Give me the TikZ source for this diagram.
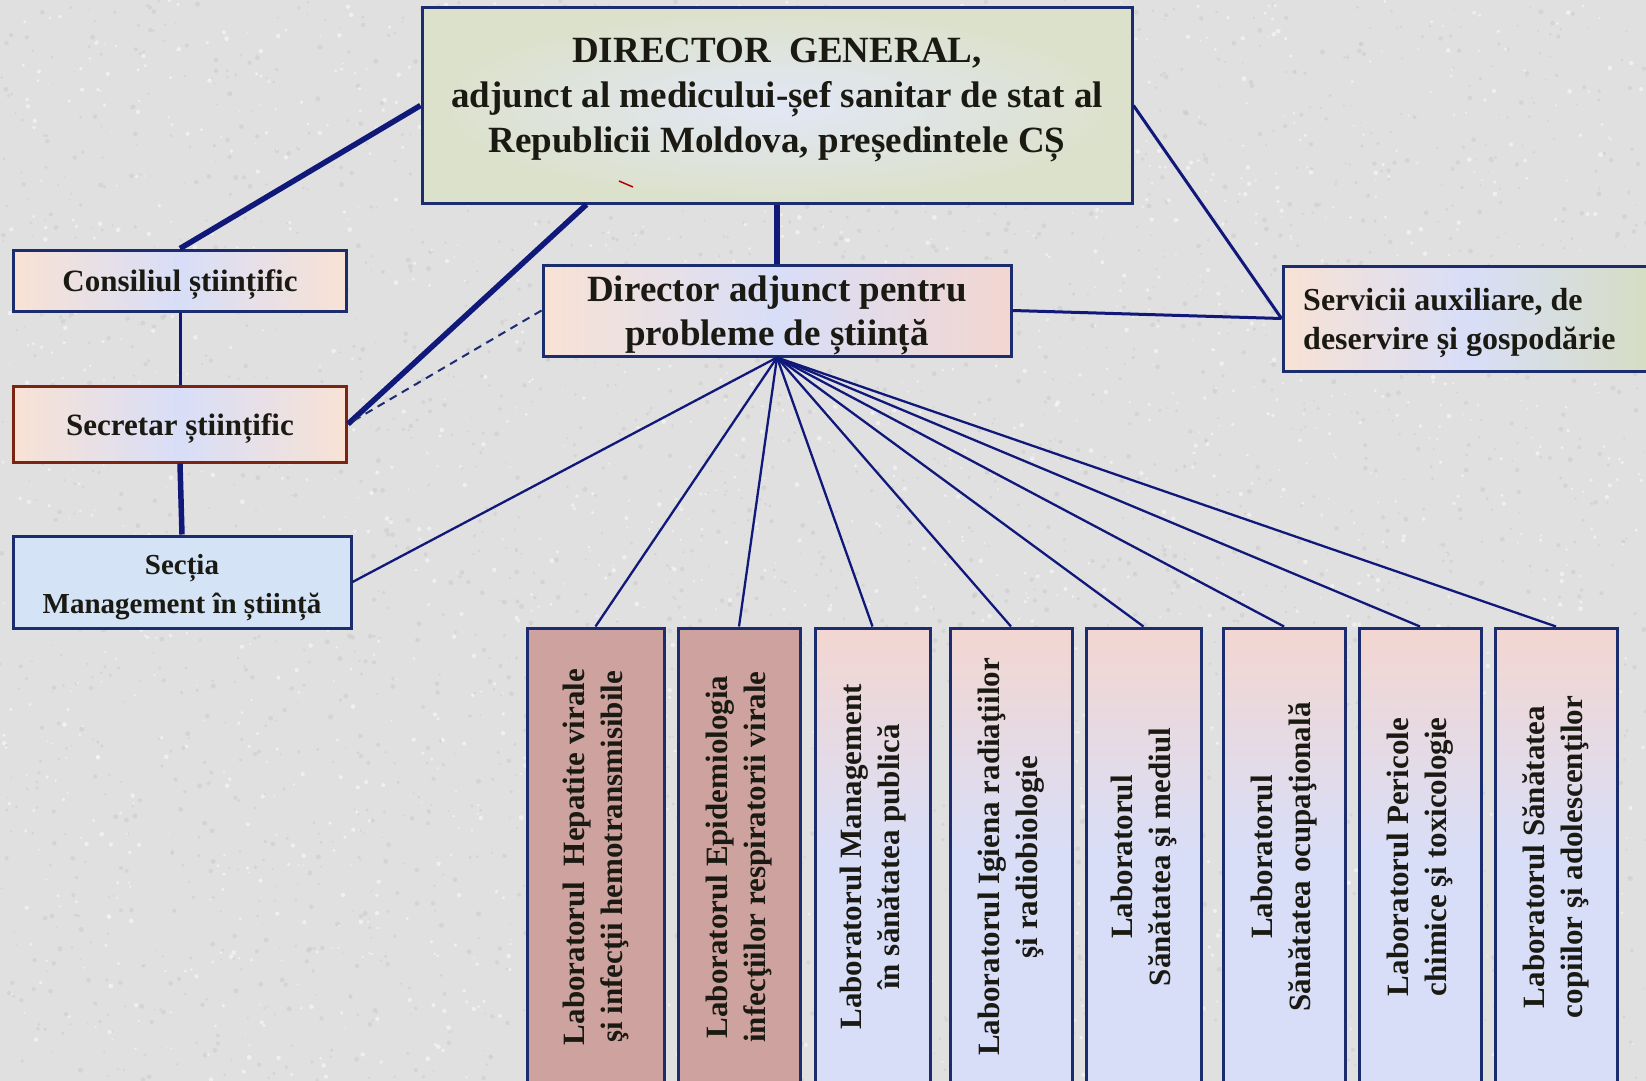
\documentclass[tikz,border=0pt]{standalone}
\usepackage{fontspec}
\setmainfont{Liberation Serif}
\usepackage{graphicx}
\usepackage{tikz}
\definecolor{bggrey}{HTML}{E0E0E0}
\definecolor{speck}{HTML}{C4C4C4}
\definecolor{linenavy}{HTML}{10197A}
\definecolor{boxedge}{HTML}{1B2D6E}
\definecolor{redge}{HTML}{7B2412}
\definecolor{peach}{HTML}{F8E2D4}
\definecolor{lavblue}{HTML}{D8DEF8}
\definecolor{greytop}{HTML}{D6DDC2}
\definecolor{topedge}{HTML}{DCE1CB}
\definecolor{paletop}{HTML}{E2E7F6}
\definecolor{sectblue}{HTML}{D4E4F6}
\definecolor{rosy}{HTML}{CDA29F}
\definecolor{labpink}{HTML}{F3D6D0}
\definecolor{textdark}{HTML}{1A1A12}
\newcommand{\labtext}[1]{\rotatebox{90}{\begin{tabular}{@{}c@{}}#1\end{tabular}}}

\begin{document}
\begin{tikzpicture}[x=1pt, y=-1pt,
  box/.style={draw=boxedge, line width=3pt, inner sep=0pt},
  boxtext/.style={text=textdark, align=center, inner sep=0pt, font=\bfseries},
  smallbox/.style={box, minimum width=333, left color=peach, right color=peach, middle color=lavblue},
  labbox/.style={box, minimum height=458, text=textdark, font=\bfseries\fontsize{31}{38}\selectfont},
  rosylab/.style={labbox, fill=rosy},
  palelab/.style={labbox, top color=labpink, bottom color=lavblue, middle color=lavblue},
  thickline/.style={draw=linenavy, line width=5.5pt},
  midline/.style={draw=linenavy, line width=3pt},
  thinline/.style={draw=linenavy, line width=2.3pt},
  dashline/.style={draw=boxedge, line width=2pt, dash pattern=on 8pt off 6pt}]
\useasboundingbox (0,0) rectangle (1646,1081);
\clip (0,0) rectangle (1646,1081);
\fill[bggrey] (0,0) rectangle (1646,1081);
\pgfmathsetseed{7}
\foreach \k in {1,...,3000}
  \fill[speck, opacity=0.4] (rnd*1646, rnd*1081) circle (0.8+rnd*1.8);
\foreach \k in {1,...,2000}
  \fill[white, opacity=0.5] (rnd*1646, rnd*1081) circle (0.8+rnd*1.6);

% top of the chart
\node[box, minimum width=710, minimum height=195, inner color=paletop, outer color=topedge] (dg) at (777,105.5) {};
\node[boxtext, font=\bfseries\fontsize{37}{45}\selectfont] (dgtext) at (777,100)
  {DIRECTOR~ GENERAL,\\adjunct al medicului-șef sanitar de stat al\\Republicii Moldova, președintele CȘ};
\draw[red!70!black, line width=1.5pt] (619,181) -- (633,187);

\node[box, minimum width=468, minimum height=91, left color=peach, right color=labpink, middle color=lavblue] (adj) at (777,310.5) {};
\node[boxtext, font=\bfseries\fontsize{37}{44}\selectfont] (adjtext) at (777,315.5)
  {Director adjunct pentru\\probleme de știință};
\node[box, minimum width=370, minimum height=105, left color=peach, right color=greytop, middle color=lavblue] (serv) at (1468,318.5) {};
\node[boxtext, align=left, anchor=west, font=\bfseries\fontsize{32}{39}\selectfont] (servtext) at (1303,322.5)
  {Servicii auxiliare, de\\deservire și gospodărie};

% left column
\node[smallbox, minimum height=61] (cons) at (180,280.5) {};
\node[boxtext, font=\bfseries\fontsize{31}{37}\selectfont] (constext) at (180,284.5) {Consiliul științific};
\node[smallbox, minimum height=76, draw=redge] (secr) at (180,424) {};
\node[boxtext, font=\bfseries\fontsize{31}{37}\selectfont] (secrtext) at (180,429) {Secretar științific};
\node[box, minimum width=338, minimum height=92, fill=sectblue] (sect) at (182,582) {};
\node[boxtext, font=\bfseries\fontsize{29}{39}\selectfont] (secttext) at (182,588) {Secția\\Management în știință};

% laboratories
\node[rosylab, minimum width=137] (lab1) at (595.5,857) {\labtext{Laboratorul~ Hepatite virale\\şi infecţii hemotransmisibile}};
\node[rosylab, minimum width=122] (lab2) at (739,857) {\labtext{Laboratorul Epidemiologia\\infecţiilor respiratorii virale}};
\node[palelab, minimum width=115] (lab3) at (872.5,857) {\labtext{Laboratorul Management\\în sănătatea publică}};
\node[palelab, minimum width=122] (lab4) at (1011,857) {\labtext{Laboratorul Igiena radiaţiilor\\şi radiobiologie}};
\node[palelab, minimum width=115] (lab5) at (1143.5,857) {\labtext{Laboratorul\\Sănătatea şi mediul}};
\node[palelab, minimum width=122] (lab6) at (1284,857) {\labtext{Laboratorul\\Sănătatea ocupaţională}};
\node[palelab, minimum width=122] (lab7) at (1420,857) {\labtext{Laboratorul Pericole\\chimice şi toxicologie}};
\node[palelab, minimum width=122] (lab8) at (1556,857) {\labtext{Laboratorul Sănătatea\\copiilor şi adolescenţilor}};

% connectors
\draw[thickline] (dg.west) -- (cons.north);
\draw[thickline] ([xshift=166pt]dg.south west) -- (secr.east);
\draw[thickline] (dg.south) -- (adj.north);
\draw[midline] (dg.east) -- (serv.west);
\draw[midline] (adj.east) -- (serv.west);
\draw[dashline] (adj.west) -- (secr.east);
\draw[midline] (cons.south) -- (secr.north);
\draw[thickline] (secr.south) -- (sect.north);
\draw[thinline] (adj.south) -- (sect.east);
\foreach \i in {1,...,8}
  \draw[thinline] (adj.south) -- (lab\i.north);
\end{tikzpicture}
\end{document}
